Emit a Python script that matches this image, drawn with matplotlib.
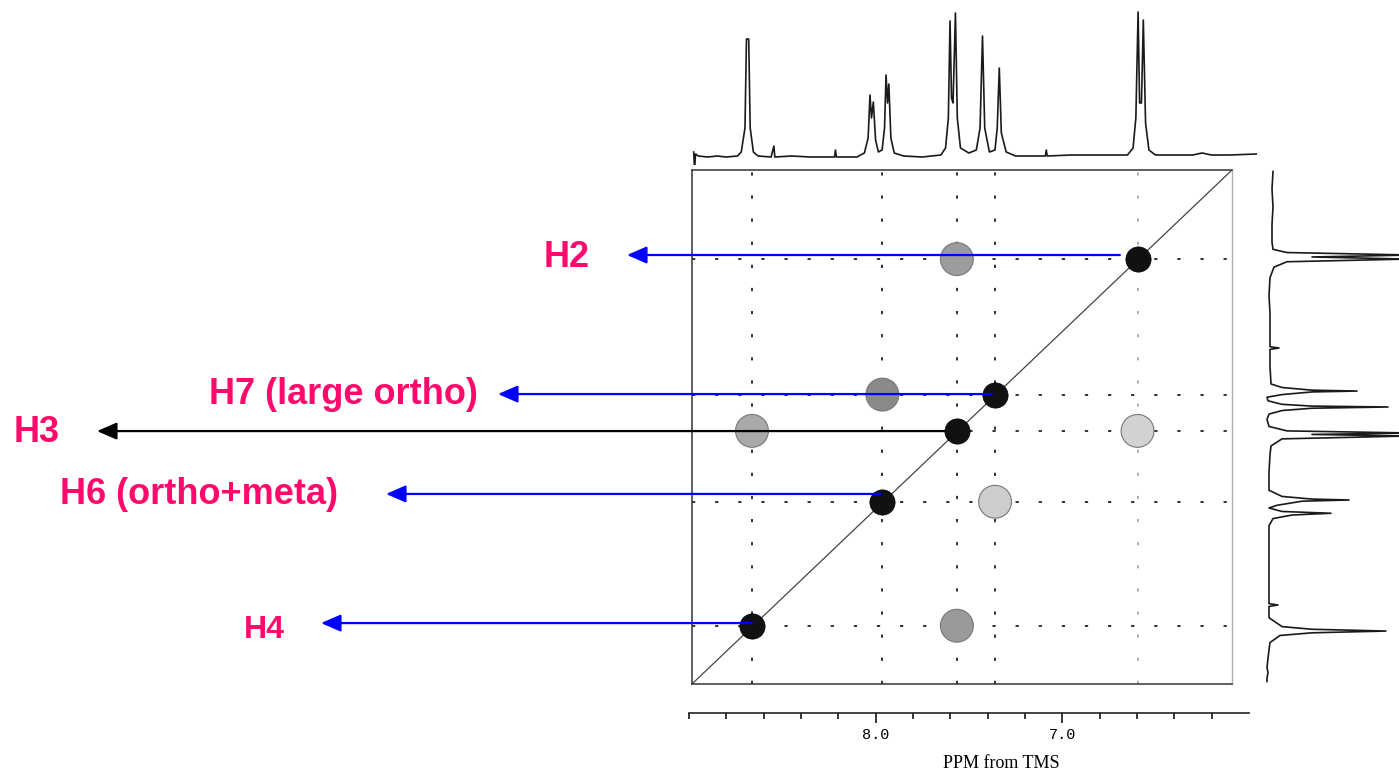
import matplotlib
matplotlib.use('Agg')
import matplotlib.pyplot as plt
from matplotlib.transforms import blended_transform_factory

W, H = 1399, 771

# chemical shifts (ppm) of the five aromatic protons, diagonal order
PROTONS = ['H4', 'H6', 'H3', 'H7', 'H2']
SHIFTS = [8.665, 7.965, 7.565, 7.36, 6.595]

# off-diagonal cross peaks: (x ppm, y ppm, grey level)
CROSS_X = [7.565, 7.965, 8.665, 6.595, 7.36, 7.565]
CROSS_Y = [6.595, 7.36, 7.565, 7.565, 7.965, 8.665]
CROSS_GREY = ['#9c9c9c', '#8a8a8a', '#a9a9a9', '#d2d2d2', '#cdcdcd', '#9a9a9a']

# 1D trace along the top (ppm, intensity)
TOP_PPM = [8.975, 8.97, 8.965, 8.95, 8.90, 8.85, 8.80, 8.74, 8.72, 8.70, 8.692,
           8.680, 8.672, 8.655, 8.63, 8.56, 8.545, 8.54, 8.45, 8.35, 8.22, 8.215,
           8.21, 8.10, 8.06, 8.04, 8.030, 8.022, 8.012, 8.00, 7.985, 7.965, 7.952,
           7.944, 7.936, 7.929, 7.918, 7.90, 7.85, 7.75, 7.65, 7.625, 7.610, 7.601,
           7.593, 7.585, 7.572, 7.562, 7.545, 7.50, 7.46, 7.440, 7.427, 7.415, 7.39,
           7.36, 7.348, 7.337, 7.326, 7.30, 7.25, 7.15, 7.09, 7.085, 7.08, 6.95,
           6.80, 6.65, 6.62, 6.605, 6.593, 6.585, 6.575, 6.565, 6.553, 6.535, 6.50,
           6.40, 6.30, 6.25, 6.20, 6.10, 5.96]
TOP_INT = [6, -12, 4, 2, 1, 2, 1, 2, 6, 30, 119,
           119, 30, 6, 2, 1, 12, 1, 2, 1, 1, 8,
           1, 1, 5, 20, 63, 40, 56, 18, 6, 8, 30,
           83, 55, 74, 20, 5, 2, 1, 3, 10, 40, 137,
           60, 55, 145, 40, 10, 5, 8, 30, 122, 30, 6,
           8, 30, 90, 25, 6, 2, 2, 2, 8, 2, 3,
           3, 3, 10, 40, 146, 55, 55, 138, 35, 8, 3,
           3, 3, 5, 3, 3, 4]

# 1D trace along the right side (ppm, intensity)
RIGHT_PPM = [6.10, 6.20, 6.30, 6.40, 6.50, 6.54, 6.558, 6.572, 6.583, 6.595,
             6.61, 6.64, 6.70, 6.80, 6.90, 7.00, 7.09, 7.097, 7.105, 7.20,
             7.30, 7.32, 7.335, 7.340, 7.345, 7.36, 7.375, 7.395, 7.415, 7.425,
             7.430, 7.437, 7.45, 7.47, 7.50, 7.54, 7.565, 7.577, 7.585, 7.594,
             7.61, 7.65, 7.70, 7.80, 7.90, 7.935, 7.950, 7.955, 7.962, 7.985,
             8.00, 8.02, 8.030, 8.040, 8.06, 8.10, 8.20, 8.30, 8.40, 8.54,
             8.548, 8.556, 8.62, 8.67, 8.685, 8.695, 8.705, 8.72, 8.76, 8.80,
             8.85, 8.90, 8.93, 8.96, 8.98]
RIGHT_INT = [1, 0, 1, 0, 0, 1, 15, 140, 40, 135,
             15, 2, -2, -3, -2, -2, -2, 7, -2, -2,
             -1, 10, 40, 85, 40, 10, -5, -4, 10, 40,
             116, 40, 10, -3, -5, -3, 15, 140, 40, 135,
             10, -1, -2, -3, -3, 10, 40, 77, 30, 5,
             -3, 10, 59, 20, 1, -3, -3, -3, -3, -3,
             6, -3, -3, 10, 40, 114, 40, 8, -2, -3,
             -4, -5, -4, -5, -5]

# annotation labels, arrow rows (ppm), arrow start (ppm) and arrow tips (px)
LABELS = ['H2', 'H7 (large ortho)', 'H3', 'H6 (ortho+meta)', 'H4']
ARROW_Y = [6.572, 7.357, 7.566, 7.921, 8.650]
ARROW_START = [6.69, 7.377, 7.629, 7.973, 8.665]
ARROW_TIP_PX = [627, 498, 97, 386, 321]
LABEL_RIGHT_PX = [590, 478, 60, 338, 285]
LABEL_Y_PX = [258, 395, 433, 494, 630]
LABEL_SIZE = [26, 26, 26, 26, 23]
ARROW_COLORS = ['#0000ff', '#0000ff', '#000000', '#0000ff', '#0000ff']
PINK = '#ff0a6c'


def px_axes(fig, x0, y0, x1, y1):
    return fig.add_axes([x0 / W, 1 - y1 / H, (x1 - x0) / W, (y1 - y0) / H])


fig = plt.figure(figsize=(W / 100, H / 100), dpi=100)
fig.patch.set_facecolor('white')

# ---- 2D COSY map ----
ax = px_axes(fig, 692, 170, 1232, 684)
ax.set_xlim(8.987, 6.088)
ax.set_ylim(8.994, 6.092)
ax.set_xticks([])
ax.set_yticks([])
for side in ['left', 'top', 'bottom']:
    ax.spines[side].set_color('#333333')
    ax.spines[side].set_linewidth(1.1)
ax.spines['right'].set_color('#b0b0b0')
ax.spines['right'].set_linewidth(1.0)

for i, s in enumerate(SHIFTS):
    vcol = '#aaaaaa' if i == len(SHIFTS) - 1 else '#222222'
    ax.axvline(s, color=vcol, lw=1.3, ls=(0, (1.8, 11)), zorder=1)
    ax.axhline(s, color='#222222', lw=1.3, ls=(0, (1.8, 11)), zorder=1)

ax.plot([0, 1], [0, 1], transform=ax.transAxes, color='#444444', lw=0.9, zorder=2)

ax.scatter(CROSS_X, CROSS_Y, s=560, c=CROSS_GREY, edgecolors='#777777',
           linewidths=0.8, zorder=3)
ax.scatter(SHIFTS, SHIFTS, s=330, c='#111111', edgecolors='#000000',
           linewidths=0.5, zorder=4)

# arrows from the diagonal peaks out to the labels
tr = blended_transform_factory(fig.transFigure, ax.transData)
for ay, ax0, tip, col in zip(ARROW_Y, ARROW_START, ARROW_TIP_PX, ARROW_COLORS):
    ax.annotate('', xy=(tip / W, ay), xycoords=tr, xytext=(ax0, ay), textcoords='data',
                arrowprops=dict(arrowstyle='-|>,head_length=0.6,head_width=0.26',
                                color=col, lw=1.6, mutation_scale=20,
                                shrinkA=0, shrinkB=0),
                annotation_clip=False, zorder=6)

for lab, xr, yc, fs in zip(LABELS, LABEL_RIGHT_PX, LABEL_Y_PX, LABEL_SIZE):
    fig.text(xr / W, 1 - yc / H, lab, ha='right', va='center', color=PINK,
             fontsize=fs, fontweight='bold', family='Liberation Sans')

# ---- top 1D spectrum ----
axt = px_axes(fig, 689, 0, 1259, 165)
axt.plot(TOP_PPM, TOP_INT, color='#1a1a1a', lw=1.2)
axt.set_xlim(9.0, 5.945)
axt.set_ylim(-7, 158)
axt.axis('off')

# ---- right 1D spectrum ----
axr = px_axes(fig, 1250, 170, 1399, 684)
axr.plot(RIGHT_INT, RIGHT_PPM, color='#1a1a1a', lw=1.2)
axr.set_xlim(-22, 127)
axr.set_ylim(8.994, 6.092)
axr.axis('off')

# ---- bottom ppm scale ----
axb = px_axes(fig, 689, 700, 1249, 713)
axb.set_xlim(9.0, 6.0)
axb.set_ylim(0, 1)
axb.set_yticks([])
for side in ['left', 'right', 'top']:
    axb.spines[side].set_visible(False)
axb.spines['bottom'].set_color('#222222')
axb.spines['bottom'].set_linewidth(1.2)
axb.patch.set_alpha(0)
axb.set_xticks([8.0, 7.0])
axb.set_xticklabels(['8.0', '7.0'], family='Liberation Mono', fontsize=11)
axb.set_xticks([9.0, 8.8, 8.6, 8.4, 8.2, 7.8, 7.6, 7.4, 7.2, 6.8, 6.6, 6.4, 6.2], minor=True)
axb.tick_params(axis='x', which='major', direction='out', length=7, width=1.1, pad=4)
axb.tick_params(axis='x', which='minor', direction='out', length=4.5, width=1.1)
axb.set_xlabel('PPM from TMS', family='Liberation Serif', fontsize=13)
axb.xaxis.set_label_coords((1001 - 689) / 560, -3.25)

fig.savefig('out.png', dpi=100, facecolor='white')
